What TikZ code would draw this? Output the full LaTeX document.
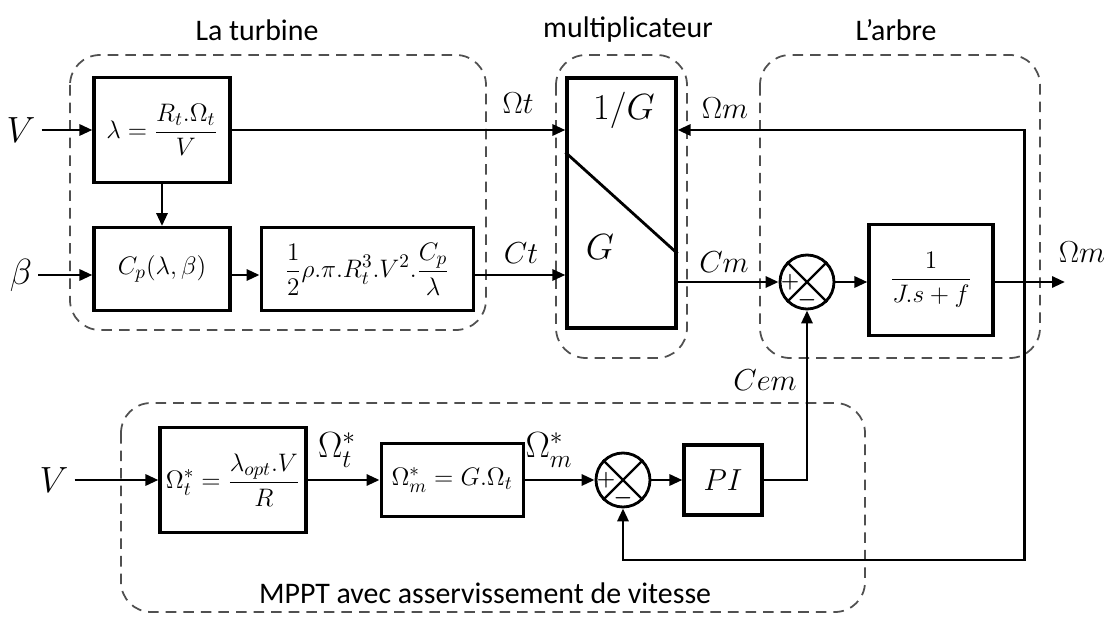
\documentclass[tikz,border=0pt]{standalone}
\usepackage{amsmath}
\usepackage{fontspec}
\setmainfont{Carlito}
\usetikzlibrary{arrows.meta, positioning, calc}
\definecolor{dashgray}{HTML}{505050}

\begin{document}
\begin{tikzpicture}[x=0.02cm, y=-0.02cm,
    blk/.style={rectangle, draw, line width=1.8pt, inner sep=2pt, font=\fontsize{15}{18}\selectfont},
    grp/.style={draw=dashgray, line width=1pt, dash pattern=on 6pt off 4pt, rounded corners=0.6cm},
    arr/.style={-{Triangle[length=2.6mm, width=2.2mm]}, line width=1.7pt},
    sumj/.style={circle, draw, line width=1.6pt, minimum size=1.08cm, inner sep=0pt},
    sgn/.style={inner sep=0pt, font=\fontsize{12}{12}\selectfont},
    sig/.style={font=\fontsize{17}{20}\selectfont},
    big/.style={font=\fontsize{20}{24}\selectfont},
    ttl/.style={font=\fontsize{17}{20}\selectfont},
  ]
  \useasboundingbox (0,0) rectangle (1110,618);

  % groups
  \draw[grp] (70,55) rectangle (486,330);
  \draw[grp] (556,55) rectangle (687,358);
  \draw[grp] (760,55) rectangle (1040,358);
  \draw[grp] (121,403) rectangle (865,612);
  \node[ttl] (tturb) at (257,30) {La turbine};
  \node[ttl] (tmult) at (628,30) {multiplicateur};
  \node[ttl] (tarbre) at (896,30) {L’arbre};
  \node[ttl] (tmppt) at (485,593) {MPPT avec asservissement de vitesse};

  % turbine
  \node[blk, minimum width=2.72cm, minimum height=2.1cm] (lam) at (162,130) {$\displaystyle\lambda=\frac{R_t.\Omega_t}{V}$};
  \node[blk, minimum width=2.72cm, minimum height=1.66cm, below=0.84cm of lam] (cp) {$C_p(\lambda,\beta)$};
  \node[blk, minimum width=4.24cm, minimum height=1.66cm, right=0.56cm of cp] (aero) {$\displaystyle\frac{1}{2}\rho.\pi.R_t^3.V^2.\frac{C_p}{\lambda}$};
  \node[big] (lv) at (21,130) {$V$};
  \node[big] (lbeta) at (21,275) {$\beta$};

  % multiplicateur
  \node[blk, minimum width=2.18cm, minimum height=5cm] (gear) at (621.5,203) {};
  \draw[line width=1.6pt] ($(gear.north west)!0.3!(gear.south west)$) -- ($(gear.north east)!0.7!(gear.south east)$);
  \node[big] (ginv) at (624,110) {$1/G$};
  \node[big] (gdir) at (600,247) {$G$};

  % arbre
  \node[sumj] (sA) at (807,282) {};
  \node[blk, minimum width=2.48cm, minimum height=2.22cm] (shaft) at (931,280) {$\displaystyle\frac{1}{J.s+f}$};
  \coordinate (fb) at (1024,282);
  \coordinate (out) at (1065,282);
  \coordinate (fbl) at (1024,560);

  % MPPT
  \node[blk, minimum width=2.92cm, minimum height=2.1cm] (omt) at (233,480) {$\displaystyle\Omega_t^*=\frac{\lambda_{opt}.V}{R}$};
  \node[blk, minimum width=2.84cm, minimum height=1.46cm, right=1.44cm of omt] (omm) {$\Omega_m^*=G.\Omega_t$};
  \node[sumj] (sB) at (623,480) {};
  \node[blk, minimum width=1.56cm, minimum height=1.4cm, font=\fontsize{19}{22}\selectfont] (pi) at (723,480) {$PI$};
  \node[big] (lv2) at (54,480) {$V$};

  % summing junctions
  \foreach \s in {sA, sB} {
    \draw[line width=1.4pt] (\s.north west) -- (\s.south east) (\s.north east) -- (\s.south west);
    \node[sgn] at ($(\s)+(-17,0)$) {$\boldsymbol{+}$};
    \node[sgn] at ($(\s)+(0,18)$) {$\boldsymbol{-}$};
  }

  % signal labels
  \node[sig] (lomt) at (518,103) {$\Omega t$};
  \node[sig] (lct) at (521,253) {$Ct$};
  \node[sig] (lomm) at (725,108) {$\Omega m$};
  \node[sig] (lcm) at (724,262) {$Cm$};
  \node[sig] (lout) at (1082,252) {$\Omega m$};
  \node[sig] (lcem) at (765,380) {$Cem$};
  \node[big] (lomts) at (337,450) {$\Omega_t^*$};
  \node[big] (lomms) at (549,450) {$\Omega_m^*$};

  % connectors
  \draw[arr] (lv.east) -- (lam.west);
  \draw[arr] (lbeta.east) -- (lbeta.east -| cp.west);
  \draw[arr] (lam.south) -- (cp.north);
  \draw[arr] (lbeta -| cp.east) -- (lbeta -| aero.west);
  \draw[arr] (lbeta -| aero.east) -- (lbeta -| gear.west);
  \draw[arr] (lam.east) -- (lam.east -| gear.west);
  \draw[arr] (fb) |- (lam.east -| gear.east);
  \draw[arr] (sA -| gear.east) -- (sA.west);
  \draw[arr] (sA.east) -- (sA -| shaft.west);
  \draw[arr] (sA -| shaft.east) -- (out);
  \draw[arr] (fb) -- (fbl) -| (sB.south);
  \draw[arr] (lv2.east) -- (omt.west);
  \draw[arr] (omt.east) -- (omm.west);
  \draw[arr] (omm.east) -- (sB.west);
  \draw[arr] (sB.east) -- (pi.west);
  \draw[arr] (pi.east) -| (sA.south);
\end{tikzpicture}
\end{document}
